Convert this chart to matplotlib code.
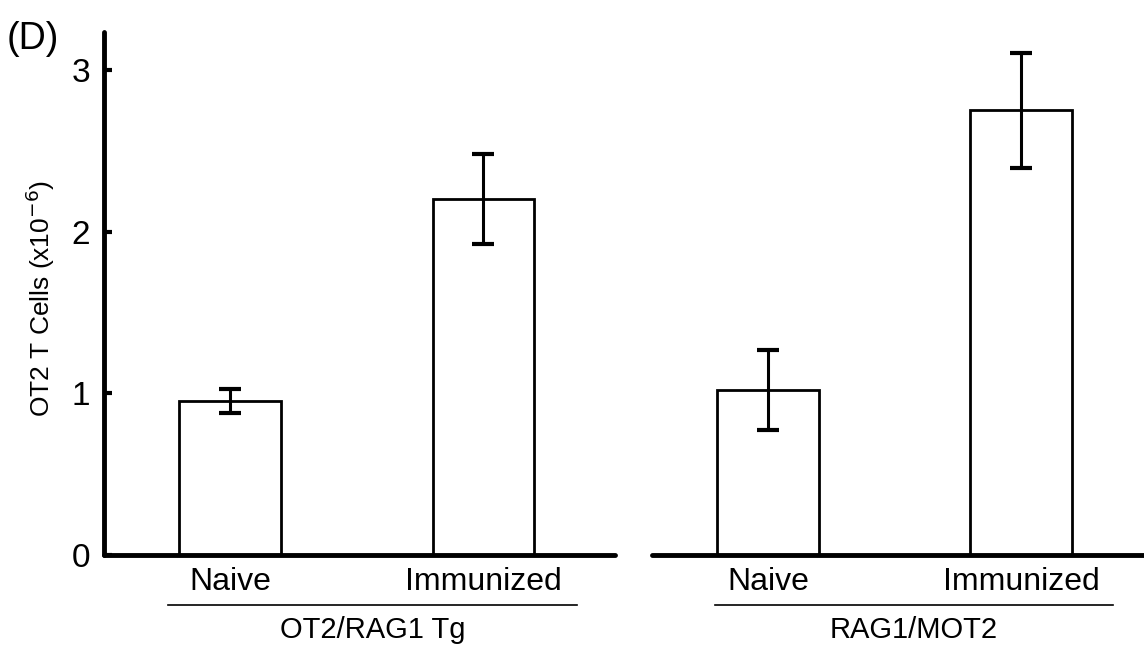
import matplotlib
matplotlib.use("Agg")
import matplotlib.pyplot as plt
from matplotlib.transforms import blended_transform_factory

plt.rcParams['font.family'] = ['Liberation Sans', 'DejaVu Sans']

# values (x10^-6 cells)
conditions = ['Naive', 'Immunized']
ot2_rag1_mean = [0.95, 2.20]
ot2_rag1_err = [0.075, 0.28]
rag1_mot2_mean = [1.02, 2.75]
rag1_mot2_err = [0.245, 0.355]
group_names = ['OT2/RAG1 Tg', 'RAG1/MOT2']
y_ticks = [0, 1, 2, 3]

fig = plt.figure(figsize=(11.44, 6.5), dpi=100)
ax_l = fig.add_axes([0.0909, 0.1462, 0.4467, 0.8046])
ax_r = fig.add_axes([0.5700, 0.1462, 0.4300, 0.8046], sharey=ax_l)

panels = [
    (ax_l, ot2_rag1_mean, ot2_rag1_err, group_names[0], (-0.497, 1.519), (-0.245, 1.369)),
    (ax_r, rag1_mot2_mean, rag1_mot2_err, group_names[1], (-0.458, 1.486), (-0.209, 1.364)),
]

for ax, means, errs, gname, xlim, uline in panels:
    xs = list(range(len(conditions)))
    ax.bar(xs, means, width=0.402, color='white', edgecolor='black', linewidth=2.0, zorder=2)
    ax.errorbar(xs, means, yerr=errs, fmt='none', ecolor='black', elinewidth=2.2,
                capsize=8, capthick=3, zorder=3)
    ax.set_xlim(*xlim)
    ax.set_xticks(xs)
    ax.set_xticklabels(conditions, fontsize=23)
    ax.tick_params(axis='x', length=0, pad=9)
    for side in ['top', 'right']:
        ax.spines[side].set_visible(False)
    ax.spines['bottom'].set_linewidth(3.5)
    ax.spines['bottom'].set_capstyle('round')

    # group underline + group name below the category labels
    trans = blended_transform_factory(ax.transData, ax.transAxes)
    ax.plot(list(uline), [-0.0956, -0.0956], color='black', lw=1.2,
            transform=trans, clip_on=False)
    ax.text(sum(uline) / 2, -0.1434, gname, transform=trans, ha='center', va='center',
            fontsize=21)

ax_l.set_ylim(0, 3.234)
ax_l.set_yticks(y_ticks)
ax_l.set_yticklabels([str(t) for t in y_ticks], fontsize=24)
ax_l.tick_params(axis='y', direction='in', length=6, width=3, pad=10)
ax_l.spines['left'].set_linewidth(3.5)
ax_l.spines['left'].set_capstyle('round')

ax_r.spines['left'].set_visible(False)
ax_r.tick_params(axis='y', left=False, labelleft=False)

fig.text(0.035, 0.54, 'OT2 T Cells (x10$^{-6}$)', rotation=90, ha='center', va='center',
         fontsize=19)
fig.text(0.006, 0.94, '(D)', fontsize=27, ha='left', va='center')

fig.savefig('out.png', dpi=100)
